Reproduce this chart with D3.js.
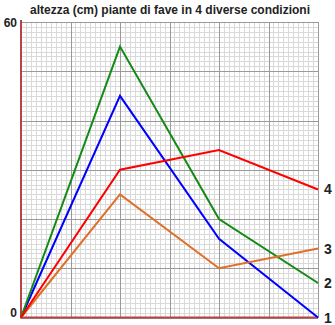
<!DOCTYPE html>
<html>
<head>
<meta charset="utf-8">
<script src="https://cdn.jsdelivr.net/npm/d3@7"></script>
<style>
  body { margin: 0; background: #fff; }
  svg { display: block; font-family: "Liberation Sans", Arial, sans-serif; }
</style>
</head>
<body>
<svg id="chart" width="335" height="325"></svg>
<script>
// data
var xs = [0, 1, 2, 3];
var serie1 = [0, 45, 16, 0];   // blu
var serie2 = [0, 55, 20, 7];   // verde
var serie3 = [0, 25, 10, 14];  // arancione
var serie4 = [0, 30, 34, 26];  // rosso
var labels = ["1", "2", "3", "4"];
var colors = ["#0000ff", "#138a13", "#e07028", "#ff0000"];
var title = "altezza (cm) piante di fave in 4 diverse condizioni";

var series = [serie1, serie2, serie3, serie4];

var svg = d3.select("#chart");
var pLeft = 21, pRight = 318, pTop = 22, pBottom = 317.5;

var x = d3.scaleLinear().domain([0, 3]).range([pLeft, pRight]);
var y = d3.scaleLinear().domain([0, 60]).range([pBottom, pTop]);

// minor grid
var minorX = d3.range(0, 3.0001, 0.05);
var minorY = d3.range(0, 60.0001, 1);
var grid = svg.append("g").attr("shape-rendering", "crispEdges");
grid.selectAll(".mx").data(minorX).enter().append("line")
	.attr("x1", function(d){ return Math.round(x(d)) + 0.5 })
	.attr("x2", function(d){ return Math.round(x(d)) + 0.5 })
	.attr("y1", pTop).attr("y2", pBottom)
	.attr("stroke", "#d9d9d9");
grid.selectAll(".my").data(minorY).enter().append("line")
	.attr("y1", function(d){ return Math.round(y(d)) + 0.5 })
	.attr("y2", function(d){ return Math.round(y(d)) + 0.5 })
	.attr("x1", pLeft).attr("x2", pRight)
	.attr("stroke", "#d9d9d9");

// major grid
var majorX = d3.range(0, 3.0001, 0.5);
var majorY = d3.range(0, 60.0001, 10);
grid.selectAll(".Mx").data(majorX).enter().append("line")
	.attr("x1", function(d){ return Math.round(x(d)) + 0.5 })
	.attr("x2", function(d){ return Math.round(x(d)) + 0.5 })
	.attr("y1", pTop).attr("y2", pBottom)
	.attr("stroke", "#9a9a9a");
grid.selectAll(".My").data(majorY).enter().append("line")
	.attr("y1", function(d){ return Math.round(y(d)) + 0.5 })
	.attr("y2", function(d){ return Math.round(y(d)) + 0.5 })
	.attr("x1", pLeft).attr("x2", pRight)
	.attr("stroke", "#9a9a9a");

// axes (red-brown)
svg.append("line")
	.attr("x1", x(0)).attr("x2", x(0))
	.attr("y1", pTop - 2).attr("y2", pBottom + 1)
	.attr("stroke", "#b84444").attr("stroke-width", 2);
svg.append("line")
	.attr("x1", x(0)).attr("x2", x(3))
	.attr("y1", y(0)).attr("y2", y(0))
	.attr("stroke", "#b84444").attr("stroke-width", 2);

var line = d3.line()
	.x(function(d, i){ return x(xs[i]) })
	.y(function(d){ return y(d) });

svg.selectAll(".serie").data(series).enter().append("path")
	.attr("d", function(d){ return line(d) })
	.attr("fill", "none")
	.attr("stroke", function(d, i){ return colors[i] })
	.attr("stroke-width", 2);

// end labels
svg.selectAll(".lab").data(series).enter().append("text")
	.attr("x", pRight + 6)
	.attr("y", function(d){ return y(d[d.length-1]) + 5 })
	.attr("font-size", 14).attr("font-weight", "bold")
	.attr("fill", "#222")
	.text(function(d, i){ return labels[i] });

// y labels
svg.append("text").attr("x", 17).attr("y", pTop + 5)
	.attr("text-anchor", "end").attr("font-size", 12).attr("font-weight", "bold")
	.attr("fill", "#222").text("60");
svg.append("text").attr("x", 17).attr("y", pBottom - 1)
	.attr("text-anchor", "end").attr("font-size", 12).attr("font-weight", "bold")
	.attr("fill", "#222").text("0");

svg.append("text").attr("x", 170).attr("y", 14)
	.attr("text-anchor", "middle").attr("font-size", 12).attr("font-weight", "bold")
	.attr("fill", "#222").text(title);
</script>
</body>
</html>
